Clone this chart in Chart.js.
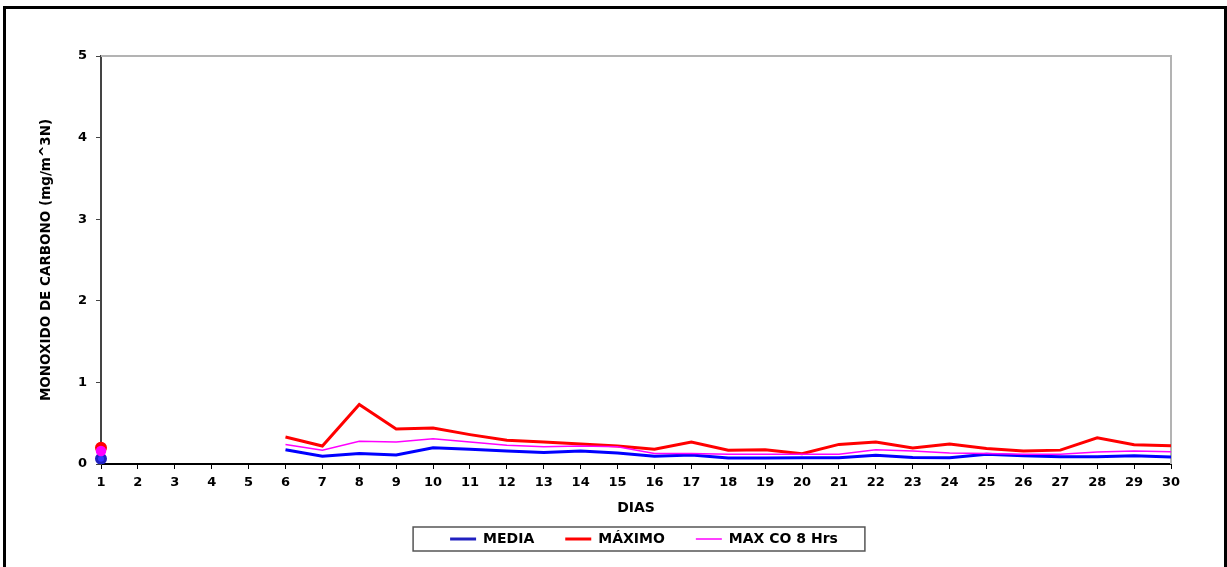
<!DOCTYPE html>
<html>
<head>
<meta charset="utf-8">
<script src="https://cdn.jsdelivr.net/npm/chart.js@4.4.1/dist/chart.umd.min.js"></script>
<style>
	body { margin: 0; background: #fff; overflow: hidden; }
	#grafico { position: absolute; left: 0; top: 0; }
	#marco { position: absolute; left: 3px; top: 6px; width: 1224px; height: 620px; border: 3px solid #000; box-sizing: border-box; pointer-events: none; }
</style>
</head>
<body>
<canvas id="grafico" width="1227" height="567"></canvas>
<div id="marco"></div>
<script>
const dias = ['1','2','3','4','5','6','7','8','9','10','11','12','13','14','15','16','17','18','19','20','21','22','23','24','25','26','27','28','29','30'];
const media = [0.065, null, null, null, null, 0.175, 0.094, 0.13, 0.11, 0.2, 0.18, 0.16, 0.14, 0.16, 0.135, 0.094, 0.11, 0.074, 0.074, 0.077, 0.077, 0.107, 0.08, 0.077, 0.12, 0.1, 0.09, 0.09, 0.1, 0.086];
const maximo = [0.2, null, null, null, null, 0.33, 0.22, 0.73, 0.43, 0.44, 0.36, 0.29, 0.27, 0.245, 0.22, 0.18, 0.27, 0.17, 0.175, 0.125, 0.24, 0.27, 0.196, 0.245, 0.19, 0.16, 0.17, 0.32, 0.236, 0.224];
const max8hrs = [0.16, null, null, null, null, 0.24, 0.17, 0.28, 0.27, 0.31, 0.27, 0.23, 0.21, 0.22, 0.21, 0.13, 0.13, 0.12, 0.12, 0.12, 0.12, 0.175, 0.16, 0.135, 0.13, 0.12, 0.12, 0.147, 0.16, 0.15];
const yTicks = [0, 1, 2, 3, 4, 5];

Chart.defaults.font.family = '"DejaVu Sans", Verdana, sans-serif';
Chart.defaults.font.weight = 'bold';
Chart.defaults.color = '#000';

const desplLeyenda = 8; // la leyenda original esta algo a la derecha del centro

// solo el dia 1 lleva marcador (punto aislado)
function radioPunto(ctx) {
	return ctx.dataIndex === 0 ? 4.5 : 0;
}

// borde gris del area de trazado y caja de la leyenda
const bordes = {
	id: 'bordes',
	afterInit(chart) {
		const leyenda = chart.legend;
		const dibujar = leyenda.draw.bind(leyenda);
		leyenda.draw = function(area) {
			chart.ctx.save();
			chart.ctx.translate(desplLeyenda, 0);
			dibujar(area);
			chart.ctx.restore();
		};
	},
	beforeDatasetsDraw(chart) {
		const a = chart.chartArea;
		const c = chart.ctx;
		c.save();
		c.strokeStyle = '#b3b3b3';
		c.lineWidth = 2;
		c.beginPath();
		c.moveTo(a.left, a.top);
		c.lineTo(a.right, a.top);
		c.lineTo(a.right, a.bottom);
		c.stroke();
		c.restore();
	},
	afterDraw(chart) {
		const hb = chart.legend.legendHitBoxes;
		if (!hb || !hb.length) return;
		const c = chart.ctx;
		const first = hb[0];
		const last = hb[hb.length - 1];
		const cy = first.top + first.height / 2;
		const x0 = first.left - 37 + desplLeyenda;
		const x1 = last.left + last.width + 27 + desplLeyenda;
		c.save();
		c.strokeStyle = '#555';
		c.lineWidth = 1.5;
		c.strokeRect(x0, cy - 12, x1 - x0, 24);
		c.restore();
	}
};

new Chart(document.getElementById('grafico'), {
	type: 'line',
	data: {
		labels: dias,
		datasets: [
			{
				label: 'MEDIA',
				data: media,
				borderColor: '#0000ff',
				backgroundColor: '#3333ff',
				pointBorderColor: '#2020c0',
				borderWidth: 3,
				pointRadius: radioPunto,
				order: 1
			},
			{
				label: 'MÁXIMO',
				data: maximo,
				borderColor: '#ff0000',
				backgroundColor: '#ff0000',
				pointBorderColor: '#ff0000',
				borderWidth: 3,
				pointRadius: radioPunto,
				order: 2
			},
			{
				label: 'MAX CO 8 Hrs',
				data: max8hrs,
				borderColor: '#ff00ff',
				backgroundColor: '#ff00ff',
				pointBorderColor: '#ff00ff',
				borderWidth: 1.5,
				pointRadius: radioPunto,
				order: 0
			}
		]
	},
	options: {
		responsive: false,
		animation: false,
		spanGaps: false,
		elements: { line: { tension: 0 }, point: { borderWidth: 1, hoverRadius: 4.5 } },
		layout: { padding: { left: 8, top: 56, right: 56, bottom: 11 } },
		plugins: {
			tooltip: { enabled: false },
			legend: {
				position: 'bottom',
				fullSize: false,
				labels: {
					usePointStyle: true,
					pointStyle: 'line',
					pointStyleWidth: 26,
					padding: 31,
					font: { size: 14, weight: 'bold' },
					color: '#000',
					sort: (a, b) => a.datasetIndex - b.datasetIndex
				}
			}
		},
		scales: {
			x: {
				type: 'category',
				offset: false,
				grid: { display: true, drawOnChartArea: false, drawTicks: true, tickLength: 5, color: '#000', offset: false },
				border: { display: true, color: '#000', width: 2 },
				ticks: { padding: 6, font: { size: 13, weight: 'bold' }, color: '#000', maxRotation: 0, autoSkip: false },
				title: { display: true, text: 'DIAS', font: { size: 14, weight: 'bold' }, color: '#000', padding: { top: 0, bottom: -15.5 } },
				afterFit(scale) { scale.height = 37; }
			},
			y: {
				min: 0,
				max: 5,
				afterBuildTicks(scale) { scale.ticks = yTicks.map(v => ({ value: v })); },
				grid: { display: true, drawOnChartArea: false, drawTicks: true, tickLength: 5, color: '#444' },
				border: { display: true, color: '#444', width: 2 },
				ticks: { padding: 9, font: { size: 13, weight: 'bold' }, color: '#000' },
				title: { display: true, text: 'MONOXIDO DE CARBONO (mg/m^3N)', font: { size: 13.5, weight: 'bold' }, color: '#000', padding: { top: 30, bottom: 0 } },
				afterFit(scale) { scale.width = 93; }
			}
		}
	},
	plugins: [bordes]
});
</script>
</body>
</html>
